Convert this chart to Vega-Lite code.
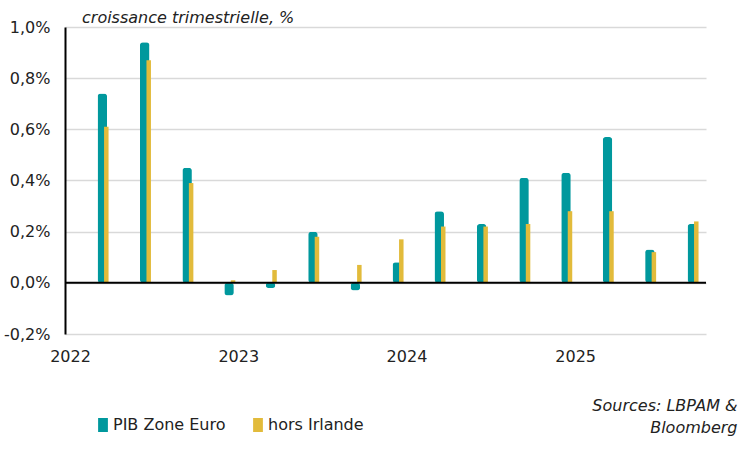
{
  "$schema": "https://vega.github.io/schema/vega-lite/v6.json",
  "width": 641,
  "height": 307,
  "autosize": {"type": "none"},
  "padding": {"left": 65, "top": 27, "right": 46, "bottom": 118},
  "background": "white",
  "config": {"view": {"stroke": null}, "font": "DejaVu Sans"},
  "title": {
    "text": "croissance trimestrielle, %",
    "anchor": "start",
    "frame": "group",
    "dx": 17,
    "dy": 23,
    "offset": 3,
    "baseline": "alphabetic",
    "fontStyle": "italic",
    "fontWeight": "normal",
    "fontSize": 16,
    "font": "DejaVu Sans",
    "color": "#222"
  },
  "datasets": {
    "gdp": [
      {"date": "2022-03-16", "serie": "PIB Zone Euro", "value": 0.74},
      {"date": "2022-03-16", "serie": "hors Irlande", "value": 0.61},
      {"date": "2022-06-16", "serie": "PIB Zone Euro", "value": 0.94},
      {"date": "2022-06-16", "serie": "hors Irlande", "value": 0.87},
      {"date": "2022-09-16", "serie": "PIB Zone Euro", "value": 0.45},
      {"date": "2022-09-16", "serie": "hors Irlande", "value": 0.39},
      {"date": "2022-12-16", "serie": "PIB Zone Euro", "value": -0.05},
      {"date": "2022-12-16", "serie": "hors Irlande", "value": 0.01},
      {"date": "2023-03-16", "serie": "PIB Zone Euro", "value": -0.02},
      {"date": "2023-03-16", "serie": "hors Irlande", "value": 0.05},
      {"date": "2023-06-16", "serie": "PIB Zone Euro", "value": 0.20},
      {"date": "2023-06-16", "serie": "hors Irlande", "value": 0.18},
      {"date": "2023-09-16", "serie": "PIB Zone Euro", "value": -0.03},
      {"date": "2023-09-16", "serie": "hors Irlande", "value": 0.07},
      {"date": "2023-12-16", "serie": "PIB Zone Euro", "value": 0.08},
      {"date": "2023-12-16", "serie": "hors Irlande", "value": 0.17},
      {"date": "2024-03-16", "serie": "PIB Zone Euro", "value": 0.28},
      {"date": "2024-03-16", "serie": "hors Irlande", "value": 0.22},
      {"date": "2024-06-16", "serie": "PIB Zone Euro", "value": 0.23},
      {"date": "2024-06-16", "serie": "hors Irlande", "value": 0.22},
      {"date": "2024-09-16", "serie": "PIB Zone Euro", "value": 0.41},
      {"date": "2024-09-16", "serie": "hors Irlande", "value": 0.23},
      {"date": "2024-12-16", "serie": "PIB Zone Euro", "value": 0.43},
      {"date": "2024-12-16", "serie": "hors Irlande", "value": 0.28},
      {"date": "2025-03-16", "serie": "PIB Zone Euro", "value": 0.57},
      {"date": "2025-03-16", "serie": "hors Irlande", "value": 0.28},
      {"date": "2025-06-16", "serie": "PIB Zone Euro", "value": 0.13},
      {"date": "2025-06-16", "serie": "hors Irlande", "value": 0.12},
      {"date": "2025-09-16", "serie": "PIB Zone Euro", "value": 0.23},
      {"date": "2025-09-16", "serie": "hors Irlande", "value": 0.24}
    ],
    "yearticks": [
      {"date": "2023-01-01"},
      {"date": "2024-01-01"},
      {"date": "2025-01-01"}
    ],
    "zero": [{"v": 0}]
  },
  "encoding": {
    "x": {
      "field": "date",
      "type": "temporal",
      "scale": {
        "type": "utc",
        "domain": [
          {"year": 2022, "month": 1, "date": 1, "utc": true},
          {"year": 2025, "month": 10, "date": 1, "utc": true}
        ],
        "nice": false
      },
      "axis": {
        "values": [
          {"year": 2022, "month": 1, "date": 1, "utc": true},
          {"year": 2023, "month": 1, "date": 1, "utc": true},
          {"year": 2024, "month": 1, "date": 1, "utc": true},
          {"year": 2025, "month": 1, "date": 1, "utc": true}
        ],
        "labelExpr": "utcFormat(datum.value, '%Y')",
        "labelDx": 7,
        "labelFlush": false,
        "labelOverlap": false,
        "domain": false,
        "ticks": false,
        "grid": false,
        "labelPadding": 14,
        "labelFontSize": 16,
        "labelFont": "DejaVu Sans",
        "labelColor": "#222",
        "title": ["Sources: LBPAM &", "Bloomberg"],
        "titleX": 672,
        "titleY": 76,
        "titleAlign": "right",
        "titleBaseline": "alphabetic",
        "titleFontStyle": "italic",
        "titleFontWeight": "normal",
        "titleFontSize": 16,
        "titleFont": "DejaVu Sans",
        "titleLineHeight": 22,
        "titleColor": "#222"
      }
    },
    "y": {
      "field": "value",
      "type": "quantitative",
      "scale": {"domain": [-0.2, 1.0], "nice": false, "zero": false},
      "axis": {
        "values": [-0.2, 0, 0.2, 0.4, 0.6, 0.8, 1.0],
        "labelExpr": "replace(replace(format(datum.value, '.1f'), '.', ','), '\u2212', '-') + '%'",
        "domain": true,
        "domainColor": "#000",
        "domainWidth": 2,
        "ticks": false,
        "grid": true,
        "gridColor": "#d9d9d9",
        "gridWidth": 1.5,
        "labelPadding": 15,
        "labelFontSize": 16,
        "labelFont": "DejaVu Sans",
        "labelColor": "#222",
        "labelFlush": false,
        "title": null
      }
    }
  },
  "layer": [
    {
      "data": {"name": "gdp"},
      "transform": [{"filter": "datum.serie === 'PIB Zone Euro'"}],
      "mark": {"type": "bar", "width": 9.5, "xOffset": -1.8, "cornerRadius": 3},
      "encoding": {
        "color": {
          "field": "serie",
          "type": "nominal",
          "scale": {"domain": ["PIB Zone Euro", "hors Irlande"], "range": ["#00989D", "#E2BB3B"]},
          "legend": {
            "orient": "none",
            "legendX": 30,
            "legendY": 390,
            "direction": "horizontal",
            "title": null,
            "symbolType": "M-0.7,-1H0.7V1H-0.7Z",
            "symbolSize": 196,
            "symbolStrokeWidth": 0,
            "symbolOpacity": 1,
            "labelFontSize": 16,
            "labelFont": "DejaVu Sans",
            "labelColor": "#222",
            "labelOffset": 2,
            "columnPadding": 24
          }
        }
      }
    },
    {
      "data": {"name": "gdp"},
      "transform": [{"filter": "datum.serie === 'hors Irlande'"}],
      "mark": {"type": "bar", "width": 4.5, "xOffset": 2.2},
      "encoding": {
        "color": {"field": "serie", "type": "nominal"}
      }
    },
    {
      "data": {"name": "zero"},
      "mark": {"type": "rule", "color": "#000", "strokeWidth": 2},
      "encoding": {"x": null, "y": {"field": "v", "type": "quantitative"}}
    },
    {
      "data": {"name": "yearticks"},
      "mark": {"type": "rule", "color": "#000", "strokeWidth": 2},
      "encoding": {
        "y": {"datum": 0},
        "y2": {"datum": -0.016}
      }
    }
  ]
}
